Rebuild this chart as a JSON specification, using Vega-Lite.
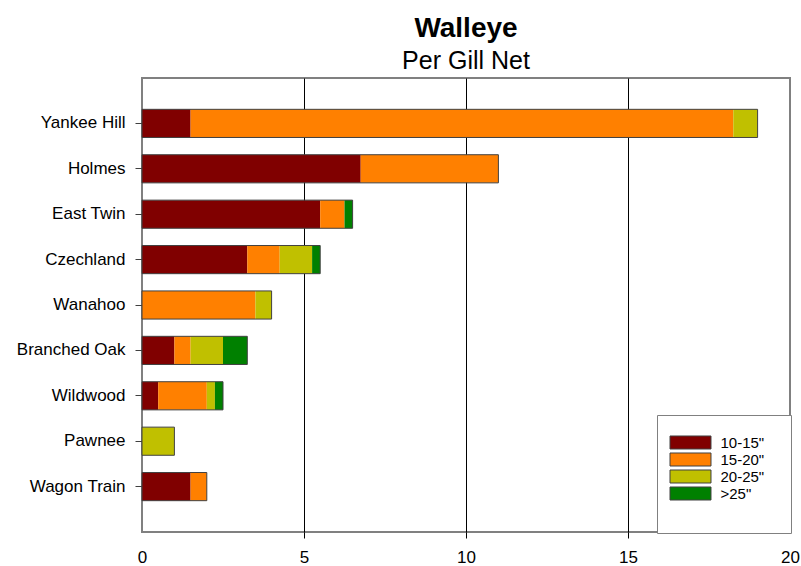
{
  "$schema": "https://vega.github.io/schema/vega-lite/v6.json",
  "autosize": "none",
  "width": 648,
  "height": 454,
  "padding": {"left": 142, "top": 78, "right": 11, "bottom": 34},
  "background": "white",
  "title": {
    "text": "Walleye",
    "subtitle": "Per Gill Net",
    "anchor": "middle",
    "frame": "group",
    "font": "Liberation Sans",
    "fontSize": 28,
    "fontWeight": "bold",
    "color": "black",
    "subtitleFont": "Liberation Sans",
    "subtitleFontSize": 25,
    "subtitleColor": "black",
    "subtitlePadding": 6,
    "offset": 4
  },
  "config": {
    "view": {"stroke": "#808080", "strokeWidth": 2},
    "font": "Liberation Sans"
  },
  "data": {
    "values": [
      {"lake": "Yankee Hill", "size": "10-15\"", "ord": 1, "value": 1.5},
      {"lake": "Yankee Hill", "size": "15-20\"", "ord": 2, "value": 16.75},
      {"lake": "Yankee Hill", "size": "20-25\"", "ord": 3, "value": 0.75},
      {"lake": "Holmes", "size": "10-15\"", "ord": 1, "value": 6.75},
      {"lake": "Holmes", "size": "15-20\"", "ord": 2, "value": 4.25},
      {"lake": "East Twin", "size": "10-15\"", "ord": 1, "value": 5.5},
      {"lake": "East Twin", "size": "15-20\"", "ord": 2, "value": 0.75},
      {"lake": "East Twin", "size": ">25\"", "ord": 4, "value": 0.25},
      {"lake": "Czechland", "size": "10-15\"", "ord": 1, "value": 3.25},
      {"lake": "Czechland", "size": "15-20\"", "ord": 2, "value": 1.0},
      {"lake": "Czechland", "size": "20-25\"", "ord": 3, "value": 1.0},
      {"lake": "Czechland", "size": ">25\"", "ord": 4, "value": 0.25},
      {"lake": "Wanahoo", "size": "15-20\"", "ord": 2, "value": 3.5},
      {"lake": "Wanahoo", "size": "20-25\"", "ord": 3, "value": 0.5},
      {"lake": "Branched Oak", "size": "10-15\"", "ord": 1, "value": 1.0},
      {"lake": "Branched Oak", "size": "15-20\"", "ord": 2, "value": 0.5},
      {"lake": "Branched Oak", "size": "20-25\"", "ord": 3, "value": 1.0},
      {"lake": "Branched Oak", "size": ">25\"", "ord": 4, "value": 0.75},
      {"lake": "Wildwood", "size": "10-15\"", "ord": 1, "value": 0.5},
      {"lake": "Wildwood", "size": "15-20\"", "ord": 2, "value": 1.5},
      {"lake": "Wildwood", "size": "20-25\"", "ord": 3, "value": 0.25},
      {"lake": "Wildwood", "size": ">25\"", "ord": 4, "value": 0.25},
      {"lake": "Pawnee", "size": "20-25\"", "ord": 3, "value": 1.0},
      {"lake": "Wagon Train", "size": "10-15\"", "ord": 1, "value": 1.5},
      {"lake": "Wagon Train", "size": "15-20\"", "ord": 2, "value": 0.5}
    ]
  },
  "encoding": {
    "y": {
      "field": "lake",
      "type": "nominal",
      "sort": ["Yankee Hill", "Holmes", "East Twin", "Czechland", "Wanahoo", "Branched Oak", "Wildwood", "Pawnee", "Wagon Train"],
      "scale": {"paddingInner": 0.38, "paddingOuter": 0.69},
      "axis": {
        "title": null,
        "domain": false,
        "grid": false,
        "labelFontSize": 17,
        "labelColor": "black",
        "labelFont": "Liberation Sans",
        "tickColor": "#404040",
        "tickSize": 7,
        "labelPadding": 10
      }
    }
  },
  "layer": [
    {
      "mark": {"type": "bar", "strokeWidth": 0},
      "encoding": {
        "x": {
          "field": "value",
          "type": "quantitative",
          "stack": "zero",
          "scale": {"domain": [0, 20], "nice": false, "zero": true},
          "axis": {
            "title": null,
            "values": [0, 5, 10, 15, 20],
            "domain": false,
            "grid": true,
            "gridColor": {"condition": {"test": "datum.value == 0 || datum.value == 20", "value": "transparent"}, "value": "black"},
            "gridWidth": 1,
            "gridOpacity": 1,
            "tickColor": {"condition": {"test": "datum.value == 0 || datum.value == 20", "value": "transparent"}, "value": "black"},
            "tickSize": 6,
            "labelFontSize": 17,
            "labelColor": "black",
            "labelFont": "Liberation Sans",
            "labelPadding": 11,
            "labelFlush": false
          }
        },
        "color": {
          "field": "size",
          "type": "nominal",
          "scale": {
            "domain": ["10-15\"", "15-20\"", "20-25\"", ">25\""],
            "range": ["#800000", "#FF8000", "#C0C000", "#008000"]
          },
          "legend": {
            "orient": "none",
            "legendX": 515,
            "legendY": 337,
            "title": "\u2800\u2800\u2800\u2800\u2800\u2800\u2800\u2800\u2800\u2800\u2800",
            "titleOrient": "bottom",
            "titleFont": "DejaVu Sans",
            "titleFontSize": 11,
            "titlePadding": 0,
            "titleLimit": 400,
            "padding": 19.5,
            "fillColor": "white",
            "strokeColor": "#808080",
            "symbolType": "M-2.733,-0.867H2.733V0.867H-2.733Z",
            "symbolSize": 225,
            "symbolOffset": 6,
            "symbolStrokeColor": "#404040",
            "symbolStrokeWidth": 1,
            "symbolOpacity": 1,
            "labelFontSize": 15,
            "labelFont": "Liberation Sans",
            "labelColor": "black",
            "labelOffset": 22,
            "rowPadding": -3
          }
        },
        "order": {"field": "ord", "type": "quantitative"}
      }
    },
    {
      "transform": [
        {"aggregate": [{"op": "sum", "field": "value", "as": "total"}], "groupby": ["lake"]}
      ],
      "mark": {"type": "bar", "fill": null, "fillOpacity": 0, "stroke": "#404040", "strokeWidth": 1},
      "encoding": {
        "x": {"field": "total", "type": "quantitative"}
      }
    }
  ]
}
